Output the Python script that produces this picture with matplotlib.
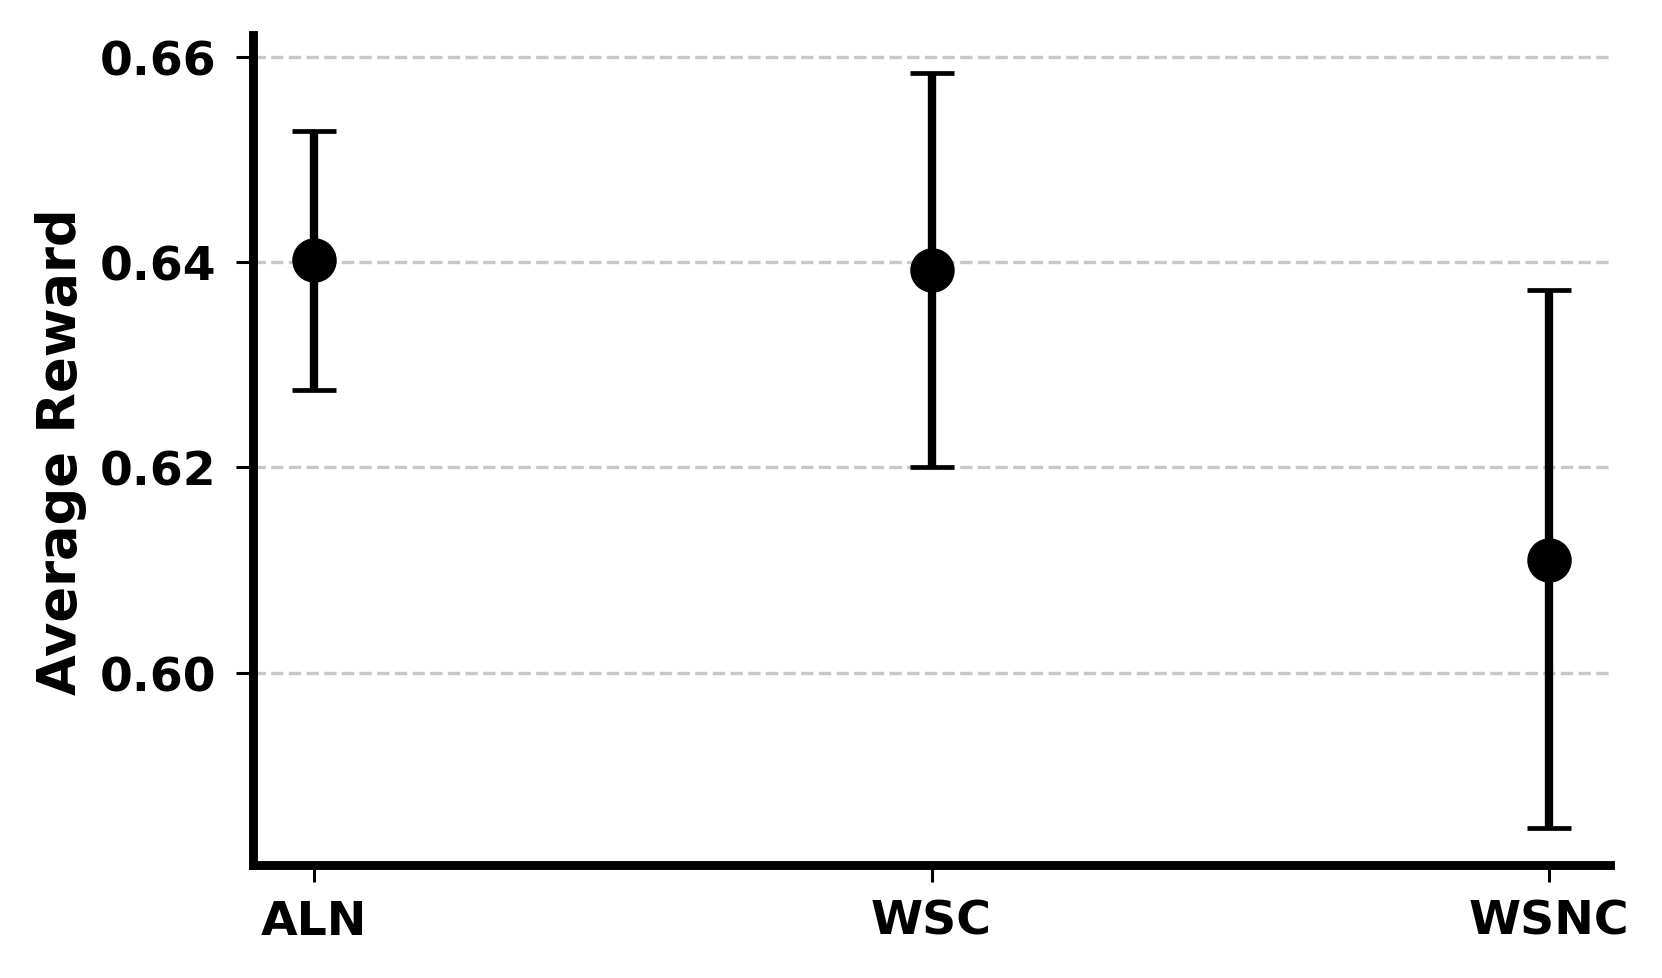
import matplotlib
matplotlib.use("Agg")
import matplotlib.pyplot as plt

categories = ["ALN", "WSC", "WSNC"]
means = [0.6402, 0.6392, 0.6110]
upper = [0.6527, 0.6584, 0.6373]
lower = [0.6275, 0.6200, 0.5849]

err_lo = [m - l for m, l in zip(means, lower)]
err_hi = [u - m for m, u in zip(means, upper)]

fig = plt.figure(figsize=(8.31, 4.895), dpi=200)
ax = fig.add_axes([0.152, 0.115, 0.817, 0.848])

x = list(range(len(categories)))
ax.errorbar(x, means, yerr=[err_lo, err_hi], fmt='o', color='black',
            markersize=15, elinewidth=3, capsize=8, capthick=1.7, zorder=3)

ax.set_xticks(x)
ax.set_xticklabels(categories, fontsize=17, fontweight='bold')
ax.set_yticks([0.60, 0.62, 0.64, 0.66])
ax.set_yticklabels(["0.60", "0.62", "0.64", "0.66"], fontsize=17, fontweight='bold')
ax.set_ylabel("Average Reward", fontsize=19, fontweight='bold', labelpad=4.5)
ax.tick_params(axis='both', length=6, width=1.1)
ax.tick_params(axis='x', pad=6)
ax.tick_params(axis='y', pad=7)

ax.grid(axis='y', linestyle='--', color='#c8c8c8', linewidth=1.2)
ax.set_axisbelow(True)

for s in ['top', 'right']:
    ax.spines[s].set_visible(False)
for s in ['left', 'bottom']:
    ax.spines[s].set_linewidth(3.2)

fig.savefig("out.png", dpi=200)
